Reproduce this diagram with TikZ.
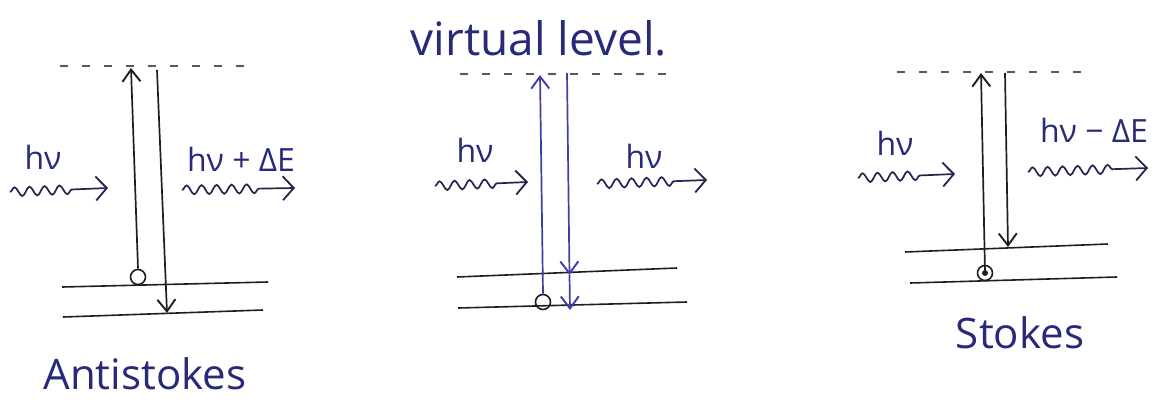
\documentclass[tikz,border=0pt]{standalone}
\usepackage{fontspec}
\setmainfont{Open Sans}
\usetikzlibrary{arrows.meta,decorations.pathmorphing}
\definecolor{ink}{HTML}{262A78}
\definecolor{blueink}{HTML}{3B3FA6}
\definecolor{pen}{HTML}{1E1E1E}
\definecolor{waveink}{HTML}{24244E}
\tikzset{
  lbl/.style={text=ink, inner sep=0pt, font=\fontsize{32}{36}\selectfont},
  big/.style={text=ink, inner sep=0pt, font=\fontsize{42}{46}\selectfont},
  level/.style={draw=pen, line width=1.6pt},
  virt/.style={draw=gray!70!black, line width=1.3pt, dash pattern=on 8pt off 14pt},
  trans/.style={draw=pen, line width=1.7pt, -{Straight Barb[length=12pt,width=18pt,line width=1.9pt]}},
  btrans/.style={trans, draw=blueink},
  photon/.style={draw=waveink, line width=1.7pt, decorate,
    decoration={snake, segment length=15pt, amplitude=4.5pt, post length=30pt},
    -{Straight Barb[length=11pt,width=24pt,line width=1.8pt]}},
  elec/.style={circle, draw=pen, line width=1.6pt, minimum size=15pt, inner sep=0pt},
}
\begin{document}
\begin{tikzpicture}[x=1pt,y=-1pt]
\useasboundingbox (0,0) rectangle (1158,399);
% ---------------- Antistokes ----------------
\coordinate (a1) at (60,66);  \coordinate (a2) at (257,66);
\draw[virt] (a1) -- (a2);
\coordinate (au1) at (62,287); \coordinate (au2) at (268,282);
\coordinate (al1) at (63,317); \coordinate (al2) at (263,310);
\draw[level] (au1) -- (au2);
\draw[level] (al1) -- (al2);
\node[elec] (ca) at (138,277) {};
\coordinate (atop) at (131,68);
\coordinate (dtopa) at (157,70); \coordinate (dbota) at (167,313);
\draw[trans] (ca.north) -- (atop);
\draw[trans] (dtopa) -- (dbota);
\node[lbl] (hva) at (43,157) {hν};
\coordinate (wa1) at (10,192); \coordinate (wa2) at (108,188);
\draw[photon] (wa1) -- (wa2);
\node[lbl] (hvpa) at (241,159) {hν + ΔE};
\coordinate (wb1) at (182,190); \coordinate (wb2) at (295,188);
\draw[photon] (wb1) -- (wb2);
\node[big] (anti) at (145,374) {Antistokes};
% ---------------- Rayleigh (virtual level) ----------------
\node[text=ink, inner sep=0pt, font=\fontsize{46}{50}\selectfont] (virt) at (539,38) {virtual level.};
\coordinate (v1) at (460,74); \coordinate (v2) at (670,74);
\draw[virt] (v1) -- (v2);
\coordinate (mu1) at (457,277); \coordinate (mu2) at (677,268);
\coordinate (ml1) at (458,308); \coordinate (ml2) at (687,302);
\draw[level] (mu1) -- (mu2);
\draw[level] (ml1) -- (ml2);
\node[elec] (cm) at (543,302) {};
\coordinate (mtop) at (540,75);
\draw[btrans] (cm.north) -- (mtop);
\coordinate (mdtop) at (567,73); \coordinate (mdmid) at (569.5,275); \coordinate (mdbot) at (570,310);
\draw[btrans] (mdtop) -- (mdmid);
\draw[btrans] (mdmid) -- (mdbot);
\node[lbl] (hvm1) at (475,150) {hν};
\coordinate (wm1) at (435,186); \coordinate (wm2) at (528,182);
\draw[photon] (wm1) -- (wm2);
\node[lbl] (hvm2) at (644,156) {hν};
\coordinate (wm3) at (597,184); \coordinate (wm4) at (707,180);
\draw[photon] (wm3) -- (wm4);
% ---------------- Stokes ----------------
\coordinate (s1) at (897,72); \coordinate (s2) at (1087,72);
\draw[virt] (s1) -- (s2);
\coordinate (su1) at (905,252); \coordinate (su2) at (1108,244);
\coordinate (sl1) at (910,283); \coordinate (sl2) at (1117,277);
\draw[level] (su1) -- (su2);
\draw[level] (sl1) -- (sl2);
\node[elec] (cs) at (985,273) {};
\fill[pen] (cs.center) circle (3pt);
\coordinate (stop) at (981,73);
\draw[trans] (cs.center) -- (stop);
\coordinate (sdtop) at (1005,73); \coordinate (sdbot) at (1008,247);
\draw[trans] (sdtop) -- (sdbot);
\node[lbl] (hvs) at (895,143) {hν};
\coordinate (ws1) at (858,178); \coordinate (ws2) at (955,174);
\draw[photon] (ws1) -- (ws2);
\node[lbl] (hvms) at (1094,130) {hν − ΔE};
\coordinate (ws3) at (1028,172); \coordinate (ws4) at (1148,168);
\draw[photon] (ws3) -- (ws4);
\node[big] (stokes) at (1020,333) {Stokes};
\end{tikzpicture}
\end{document}
